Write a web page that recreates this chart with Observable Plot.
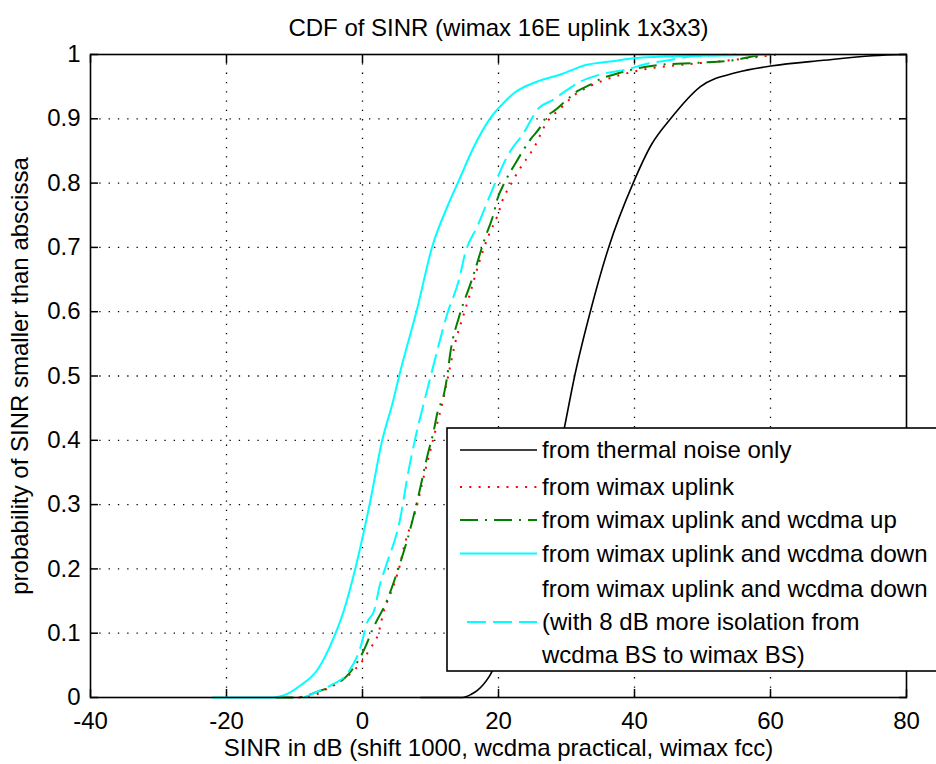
<!DOCTYPE html>
<html><head><meta charset="utf-8">
<script src="https://cdn.jsdelivr.net/npm/d3@7"></script>
<script src="https://cdn.jsdelivr.net/npm/@observablehq/plot@0.6"></script>
<style>html,body{margin:0;padding:0;background:#fff;}</style>
</head><body><div id="chart"></div>
<script>
// ---- texts ----
const title = "CDF of SINR (wimax 16E uplink 1x3x3)";
const xLabel = "SINR in dB (shift 1000, wcdma practical, wimax fcc)";
const yLabel = "probability of SINR smaller than abscissa";
const xTicks = [-40, -20, 0, 20, 40, 60, 80];
const xTickLabels = ["-40", "-20", "0", "20", "40", "60", "80"];
const yTicks = [0, 0.1, 0.2, 0.3, 0.4, 0.5, 0.6, 0.7, 0.8, 0.9, 1];
const yTickLabels = ["0", "0.1", "0.2", "0.3", "0.4", "0.5", "0.6", "0.7", "0.8", "0.9", "1"];
const seriesNames = [
  ["from thermal noise only"],
  ["from wimax uplink"],
  ["from wimax uplink and wcdma up"],
  ["from wimax uplink and wcdma down"],
  ["from wimax uplink and wcdma down", "(with 8 dB more isolation from", "wcdma BS to wimax BS)"]
];

// ---- series values ----
const thermalX = [8.5, 14.7, 16.0, 16.9, 18.6, 20, 22, 24, 26, 28, 29.7, 31.2, 33.5, 36.2, 39.8, 42.5, 45.3, 49.7, 55, 60, 67.8, 75, 80];
const thermalY = [0, 0, 0.005, 0.011, 0.032, 0.06, 0.1, 0.16, 0.24, 0.33, 0.42, 0.5, 0.6, 0.7, 0.8, 0.86, 0.9, 0.95, 0.972, 0.982, 0.991, 0.998, 1];

const upX = [-9.4, -7.0, -5.2, -3.0, -1.0, 0.2, 0.93, 2.4, 3.1, 4.1, 5.5, 6.1, 7.9, 9.2, 10.6, 12.0, 12.6, 13.6, 15.1, 15.9, 17.1, 18.6, 19.8, 20.8, 21.5, 23.0, 25.2, 27.2, 29.0, 31.3, 33.5, 35.5, 38.2, 42, 47, 53, 58, 61];
const upY = [0, 0.004, 0.0135, 0.027, 0.045, 0.06, 0.073, 0.102, 0.133, 0.161, 0.206, 0.234, 0.294, 0.352, 0.41, 0.47, 0.5, 0.55, 0.603, 0.631, 0.675, 0.72, 0.748, 0.779, 0.792, 0.82, 0.855, 0.896, 0.915, 0.938, 0.951, 0.96, 0.969, 0.978, 0.984, 0.99, 0.996, 1];

const wcUpX = [-12.8, -10.3, -8.5, -6.9, -4.5, -2.25, 0.44, 1.4, 3.6, 5.35, 7.1, 8.3, 9.5, 10.5, 11.0, 12.0, 12.45, 12.9, 14.2, 15.9, 16.4, 17.6, 18.1, 19.3, 19.8, 21.0, 22.5, 24.7, 26.2, 26.9, 28.4, 30.1, 31.6, 33.5, 35.0, 37.0, 39.4, 43.8, 49.2, 54.6, 58, 60.5];
const wcUpY = [0, 0, 0.002, 0.008, 0.018, 0.034, 0.079, 0.104, 0.151, 0.203, 0.265, 0.317, 0.374, 0.416, 0.442, 0.473, 0.499, 0.535, 0.592, 0.644, 0.66, 0.701, 0.717, 0.753, 0.774, 0.803, 0.831, 0.868, 0.888, 0.901, 0.914, 0.93, 0.943, 0.953, 0.962, 0.969, 0.976, 0.984, 0.987, 0.991, 0.998, 1];

const wcDownX = [-22.1, -13.3, -11, -9.1, -6.7, -4.2, -2.75, -1.0, 1.08, 2.9, 4.4, 5.6, 8.0, 10.25, 12.5, 14.0, 16.4, 18.8, 20.5, 22.3, 25.7, 29.1, 33.0, 37.0, 39.9, 45, 50, 55, 60];
const wcDownY = [0, 0, 0.006, 0.019, 0.042, 0.094, 0.135, 0.203, 0.302, 0.4, 0.457, 0.509, 0.603, 0.701, 0.764, 0.8, 0.857, 0.901, 0.922, 0.94, 0.958, 0.969, 0.984, 0.99, 0.994, 0.997, 0.998, 0.999, 1];

const wcDown8X = [-8.6, -6.9, -4.5, -2.25, -0.3, 0.7, 1.7, 2.6, 3.4, 5.6, 6.6, 7.8, 9.0, 10.25, 12.5, 14.2, 15.1, 16.9, 18.1, 19.5, 21.3, 23.7, 25.7, 28.1, 30.1, 32.1, 35, 38.9, 42, 45, 48.2, 52, 55];
const wcDown8Y = [0, 0.008, 0.02, 0.037, 0.078, 0.117, 0.135, 0.177, 0.203, 0.281, 0.343, 0.405, 0.457, 0.509, 0.598, 0.65, 0.691, 0.733, 0.764, 0.8, 0.842, 0.878, 0.914, 0.93, 0.945, 0.958, 0.969, 0.977, 0.986, 0.991, 0.997, 0.999, 1];

// ---- styles ----
const styles = [
  {stroke: "#000000", strokeWidth: 1.6, dash: null},
  {stroke: "#ff0000", strokeWidth: 2, dash: "2,7.3"},
  {stroke: "#008000", strokeWidth: 2, dash: "18,7,2,7"},
  {stroke: "#00ffff", strokeWidth: 2, dash: null},
  {stroke: "#00ffff", strokeWidth: 2, dash: "19,7"}
];

const seriesData = [
  [thermalX, thermalY], [upX, upY], [wcUpX, wcUpY], [wcDownX, wcDownY], [wcDown8X, wcDown8Y]
].map(([xs, ys]) => xs.map((x, i) => ({x, y: ys[i]})));

const FONT = "'Liberation Sans', Arial, Helvetica, sans-serif";
const FS = 24;

const lineMarks = seriesData.map((rows, k) => Plot.line(rows, {
  x: "x", y: "y", curve: "monotone-x", stroke: styles[k].stroke, strokeWidth: styles[k].strokeWidth,
  strokeDasharray: styles[k].dash ?? undefined, strokeLinecap: "butt", strokeLinejoin: "round"
}));

const svg = Plot.plot({
  width: 936, height: 764,
  marginLeft: 90, marginRight: 30, marginTop: 54, marginBottom: 67,
  style: {fontFamily: FONT, fontSize: FS + "px", background: "#fff", color: "#000", overflow: "visible"},
  x: {domain: [-40, 80]},
  y: {domain: [0, 1]},
  marks: [
    Plot.gridX(xTicks.slice(1, -1), {stroke: "#000", strokeOpacity: 1, strokeWidth: 1.3, strokeDasharray: "1.3,8"}),
    Plot.gridY(yTicks.slice(1, -1), {stroke: "#000", strokeOpacity: 1, strokeWidth: 1.3, strokeDasharray: "1.3,8"}),
    Plot.axisX(xTicks, {anchor: "bottom", tickSize: -8, strokeWidth: 1.5, text: null, label: null}),
    Plot.axisX(xTicks, {anchor: "top", tickSize: -8, strokeWidth: 1.5, text: null, label: null}),
    Plot.axisY(yTicks, {anchor: "left", tickSize: -8, strokeWidth: 1.5, text: null, label: null}),
    Plot.axisY(yTicks, {anchor: "right", tickSize: -8, strokeWidth: 1.5, text: null, label: null}),
    Plot.axisX(xTicks, {anchor: "bottom", tickSize: 0, tickPadding: 14, label: null, fontSize: FS,
      tickFormat: d => xTickLabels[xTicks.indexOf(d)]}),
    Plot.axisY(yTicks, {anchor: "left", tickSize: 0, tickPadding: 10, label: null, fontSize: FS,
      tickFormat: d => yTickLabels[yTicks.indexOf(d)]}),
    ...lineMarks,
    Plot.frame({stroke: "#000", strokeWidth: 1.6}),
    Plot.text([title], {text: d => d, frameAnchor: "top", lineAnchor: "middle", dy: -26, fontSize: FS}),
    Plot.text([xLabel], {text: d => d, frameAnchor: "bottom", lineAnchor: "middle", dy: 51, fontSize: FS}),
    Plot.text([yLabel], {text: d => d, frameAnchor: "left", textAnchor: "middle", lineAnchor: "middle", dx: -70, rotate: -90, fontSize: FS})
  ]
});

// ---- legend (box inside the axes, as in the reference) ----
const lg = d3.select(svg).append("g").attr("font-family", FONT).attr("font-size", FS).attr("text-anchor", "start");
lg.append("rect").attr("x", 447).attr("y", 428).attr("width", 500).attr("height", 243)
  .attr("fill", "#fff").attr("stroke", "#000").attr("stroke-width", 1.6);
const rowY = [450, 487, 520, 553.5];
const multiY = [589, 622, 655];
seriesNames.forEach((lines, k) => {
  const st = styles[k];
  const ys = lines.length > 1 ? multiY : [rowY[k]];
  const sampleY = lines.length > 1 ? multiY[1] : rowY[k];
  lg.append("line").attr("x1", lines.length > 1 ? 467 : 460).attr("x2", 537)
    .attr("y1", sampleY).attr("y2", sampleY)
    .attr("stroke", st.stroke).attr("stroke-width", st.strokeWidth)
    .attr("stroke-dasharray", st.dash);
  lines.forEach((t, j) => {
    lg.append("text").attr("x", 542).attr("y", ys[j]).attr("dy", "0.35em").attr("text-anchor", "start").text(t);
  });
});

document.getElementById("chart").appendChild(svg);
</script>
</body></html>
